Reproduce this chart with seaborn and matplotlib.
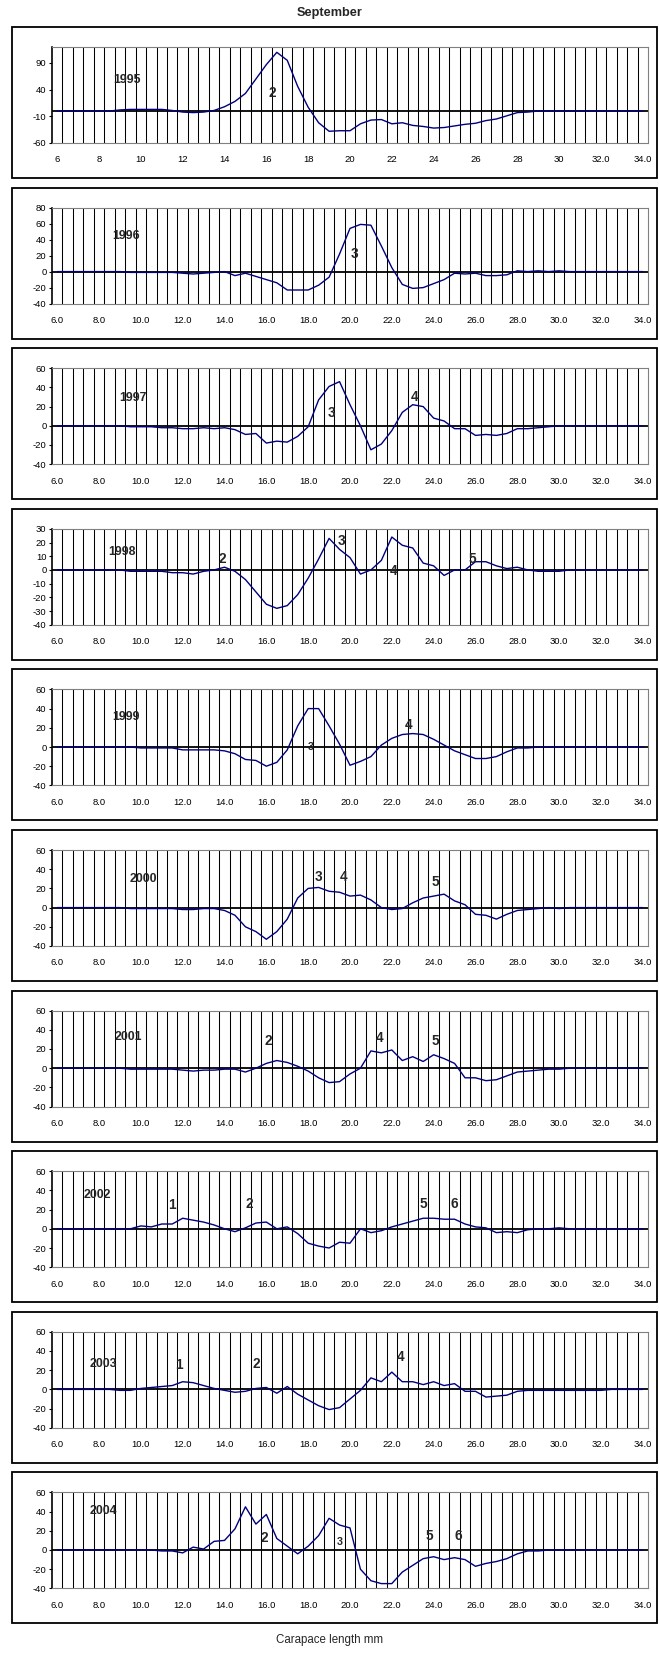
import numpy as np
import pandas as pd
import matplotlib
matplotlib.use("Agg")
import matplotlib.pyplot as plt
from matplotlib.patches import Rectangle
from matplotlib import font_manager
import seaborn as sns

# ---------------- data ----------------
lengths = [6.0 + 0.5 * i for i in range(57)]

y1995 = [0, 0, 0, 0, 0, 0, 2, 3, 3, 3, 3, 1,
         -2, -3, -2, 1, 8, 18, 33, 60, 87, 110, 95, 46,
         7, -22, -38, -37, -37, -24, -17, -16,
         -24, -22, -27, -29, -32, -31, -28, -25,
         -23, -18, -15, -9, -3, -2, 0, 0,
         0, 0, 0, 0, 0, 0, 0, 0, 0]
y1996 = [0, 0, 0, 0, 0, 0, 0, -1, -1, -1, -1, -1,
         -2, -3, -2, -1, 0, -5, -2, -6, -10, -14, -23, -23,
         -23, -17, -7, 22, 54, 59, 58, 32,
         5, -16, -21, -20, -15, -10, -2, -3,
         -2, -5, -5, -4, 1, 0, 1, 0,
         1, 0, 0, 0, 0, 0, 0, 0, 0]
y1997 = [0, 0, 0, 0, 0, 0, 0, -1, -1, -1, -2, -2,
         -3, -3, -2, -3, -2, -4, -9, -8,
         -18, -16, -17, -11, -1, 27, 41, 46,
         22, 0, -25, -19, -5, 14, 22, 20,
         8, 5, -3, -3, -10, -9, -10, -8,
         -3, -3, -2, -1,
         0, 0, 0, 0, 0, 0, 0, 0, 0]
y1998 = [0, 0, 0, 0, 0, 0, 0, -1, -1, -1, -1, -2,
         -2, -3, -1, 0, 2, -1, -7, -16,
         -25, -28, -26, -18, -6, 8, 23, 15,
         9, -3, 0, 7, 24, 18, 16, 5,
         3, -4, 0, 0, 6, 6, 3, 1,
         2, 0, -1, -1,
         -1, 0, 0, 0, 0, 0, 0, 0, 0]
y1999 = [0, 0, 0, 0, 0, 0, 0, 0, -1, -1, -1, -1,
         -3, -3, -3, -3, -4, -7, -13, -14,
         -20, -16, -3, 22, 40, 40, 22, 3,
         -19, -15, -10, 2, 9, 13, 14, 13,
         8, 2, -4, -8, -12, -12, -10, -5,
         -1, -1, 0, 0,
         0, 0, 0, 0, 0, 0, 0, 0, 0]
y2000 = [0, 0, 0, 0, 0, 0, 0, -1, -1, -1, -1, -1,
         -2, -2, -1, -1, -3, -8, -20, -25,
         -33, -25, -12, 10, 20, 21, 17, 16,
         12, 13, 8, 0, -2, -1, 5, 10,
         12, 14, 7, 3, -7, -8, -12, -7,
         -3, -2, -1, 0,
         -1, 0, 0, 0, 0, 0, 0, 0, 0]
y2001 = [0, 0, 0, 0, 0, 0, 0, -1, -1, -1, -1, -1,
         -2, -3, -2, -2, -1, -1, -4, 0,
         5, 8, 6, 2, -3, -10, -15, -14,
         -6, 0, 18, 16, 19, 8, 12, 7,
         14, 10, 5, -10, -10, -13, -12, -8,
         -4, -3, -2, -1,
         -1, 0, 0, 0, 0, 0, 0, 0, 0]
y2002 = [0, 0, 0, 0, 0, 0, 0, 0, 3, 2, 5, 5,
         11, 9, 7, 4, 0, -3, 1, 6,
         7, 0, 2, -5, -15, -18, -20, -14,
         -15, 0, -4, -2, 2, 5, 8, 11,
         11, 10, 10, 5, 2, 1, -4, -3,
         -4, -1, 0, 0,
         1, 0, 0, 0, 0, 0, 0, 0, 0]
y2003 = [0, 0, 0, 0, 0, 0, -1, -1, 1, 2, 3, 4,
         8, 7, 4, 1, -1, -3, -2, 1,
         2, -4, 3, -5, -11, -17, -21, -19,
         -10, -1, 12, 8, 18, 8, 8, 5,
         8, 4, 6, -2, -2, -8, -7, -6,
         -2, -1, -1, -1, -1, -1, -1, -1, -1,
         0, 0, 0, 0]
y2004 = [0, 0, 0, 0, 0, 0, 0, 0, 0, 0, -1, -1,
         -3, 3, 1, 9, 10, 22, 45, 27,
         37, 12, 4, -4, 4, 15, 33, 26,
         23, -20, -32, -35, -35, -23, -16, -9,
         -7, -10, -8, -10, -17, -14, -12, -9,
         -4, -1, -1, 0,
         0, 0, 0, 0, 0, 0, 0, 0, 0]

years = ["1995", "1996", "1997", "1998", "1999", "2000", "2001", "2002", "2003", "2004"]
series = [y1995, y1996, y1997, y1998, y1999, y2000, y2001, y2002, y2003, y2004]

ylims = [(-60, 120), (-40, 80), (-40, 60), (-40, 30), (-40, 60),
         (-40, 60), (-40, 60), (-40, 60), (-40, 60), (-40, 60)]
yticks = [[-60, -10, 40, 90], list(range(-40, 81, 20)), list(range(-40, 61, 20)),
          list(range(-40, 31, 10))] + [list(range(-40, 61, 20))] * 6

xtick_values = [6 + 2 * i for i in range(15)]
xtick_labels_first = ["6", "8", "10", "12", "14", "16", "18", "20", "22", "24",
                      "26", "28", "30", "32.0", "34.0"]
xtick_labels = ["%.1f" % v for v in xtick_values]

# annotations: (text, x, y, small?)
year_pos = [(9.35, 59), (9.3, 44), (9.6, 29), (9.1, 13), (9.3, 31),
            (10.1, 30), (9.4, 33), (7.9, 35), (8.2, 26), (8.2, 41)]
cohort_labels = [
    [("2", 16.3, 34, False)],
    [("3", 20.2, 22, False)],
    [("3", 19.1, 13, False), ("4", 23.1, 30, False)],
    [("2", 13.9, 8, False), ("3", 19.6, 21, False), ("4", 22.1, -1, False), ("5", 25.85, 8, False)],
    [("3", 18.1, 0.5, True), ("4", 22.8, 23, False)],
    [("3", 18.5, 32, False), ("4", 19.7, 32, False), ("5", 24.1, 27, False)],
    [("2", 16.1, 28, False), ("4", 21.4, 31, False), ("5", 24.1, 28, False)],
    [("1", 11.5, 25, False), ("2", 15.2, 26, False), ("5", 23.5, 26, False), ("6", 25.0, 26, False)],
    [("1", 11.8, 25, False), ("2", 15.5, 26, False), ("4", 22.4, 34, False)],
    [("2", 15.9, 13, False), ("3", 19.5, 8, True), ("5", 23.8, 15, False), ("6", 25.2, 15, False)],
]

# ---------------- drawing ----------------
sns.set_theme(style="white")
plt.rcParams["font.family"] = ["Liberation Sans", "DejaVu Sans"]

installed = {f.name for f in font_manager.fontManager.ttflist}
narrow = ["Liberation Sans Narrow", "Liberation Sans"] if "Liberation Sans Narrow" in installed \
    else ["Liberation Sans", "DejaVu Sans"]
label_scale = 1.0 if "Liberation Sans Narrow" in installed else 0.85

W, H = 659, 1654
fig = plt.figure(figsize=(W / 100, H / 100), dpi=100)
fig.patch.set_facecolor("white")

step = 160.6
boundaries = [5.75 + 0.5 * k for k in range(1, 57)]
navy = "#000080"

for k in range(10):
    box_top = 27 + step * k
    plot_top = 47 + step * k
    ax = fig.add_axes([52 / W, 1 - (plot_top + 96) / H, 596 / W, 96 / H])
    fig.patches.append(Rectangle((12 / W, 1 - (box_top + 151) / H), 645 / W, 151 / H,
                                 transform=fig.transFigure, fill=False,
                                 edgecolor="black", linewidth=1.3, zorder=0))
    df = pd.DataFrame({"length": lengths, "value": series[k]})
    ax.set_xticks(boundaries, minor=True)
    ax.grid(which="minor", axis="x", color="black", linewidth=0.75, zorder=1)
    ax.grid(which="major", visible=False)
    ax.axhline(0, color="black", linewidth=1.3, zorder=2)
    sns.lineplot(data=df, x="length", y="value", ax=ax, color=navy,
                 linewidth=1.0, zorder=3)
    ax.set_xlim(5.75, 34.25)
    ax.set_ylim(*ylims[k])
    ax.set_yticks(yticks[k])
    ax.set_yticklabels([str(v) for v in yticks[k]])
    ax.set_xticks(xtick_values)
    ax.set_xticklabels(xtick_labels_first if k == 0 else xtick_labels)
    ax.set_xlabel("")
    ax.set_ylabel("")
    ax.tick_params(axis="x", which="major", length=0, pad=9, labelsize=6.8, colors="black")
    ax.tick_params(axis="x", which="minor", length=0)
    ax.tick_params(axis="y", which="major", direction="out", length=2.5, width=0.8,
                   pad=1.5, labelsize=6.8, left=True, colors="black")
    for side in ["top", "right", "bottom"]:
        ax.spines[side].set_color("#808080")
        ax.spines[side].set_linewidth(0.8)
    ax.spines["left"].set_color("black")
    ax.spines["left"].set_linewidth(1.2)
    yx, yy = year_pos[k]
    ax.text(yx, yy, years[k], fontsize=10.5 * label_scale, fontweight="bold",
            family=narrow, ha="center", va="center", zorder=4)
    for lab, lx, ly, small in cohort_labels[k]:
        ax.text(lx, ly, lab, fontsize=(9 if small else 11.5) * label_scale,
                fontweight="bold", family=narrow, ha="center", va="center", zorder=4)

fig.text(330 / W, 1 - 13 / H, "September", ha="center", va="center",
         fontsize=9.2, fontweight="bold")
fig.text(330 / W, 1 - 1640 / H, "Carapace length mm", ha="center", va="center",
         fontsize=8.3)

fig.savefig("out.png", dpi=100, facecolor="white")
